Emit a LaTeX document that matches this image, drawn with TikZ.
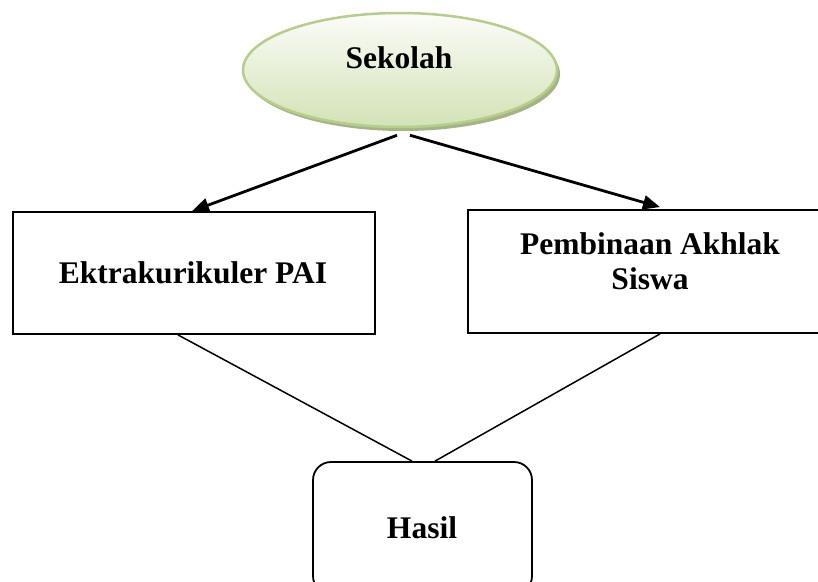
\documentclass[tikz,border=0pt]{standalone}
\usepackage{fontspec}
\setmainfont{Liberation Serif}
\usetikzlibrary{shapes.geometric,shadows,arrows.meta}
\definecolor{ellTop}{HTML}{FBFCF8}
\definecolor{ellBot}{HTML}{D3E2B6}
\definecolor{ellDraw}{HTML}{B6CE8A}
\definecolor{ellShadow}{HTML}{A5B485}
\tikzset{
  lbl/.style={font=\fontsize{31.5}{35}\selectfont\bfseries, align=center, inner sep=0pt},
  boxnode/.style={draw=black, line width=1.8pt, inner sep=0pt},
  arr/.style={line width=2.8pt, -{Triangle[length=17pt,width=14pt]}},
  conn/.style={line width=1.5pt}
}
\begin{document}
\begin{tikzpicture}[x=1pt,y=-1pt]
\useasboundingbox (0,0) rectangle (818,581);
\clip (0,0) rectangle (818,581);
\fill[white] (0,0) rectangle (818,581);
% ellipse
\node[ellipse, minimum width=314pt, minimum height=114pt, draw=ellDraw, line width=2.5pt,
      top color=ellTop, bottom color=ellBot,
      drop shadow={shadow xshift=3pt, shadow yshift=-4pt, fill=ellShadow, opacity=1}] (sek) at (400,70) {};
\node[lbl] (sektxt) at (399,58) {Sekolah};
% boxes
\node[boxnode, minimum width=362pt, minimum height=122pt] (lb) at (194,273) {};
\node[lbl] (lbtxt) at (193,273) {Ektrakurikuler PAI};
\node[boxnode, minimum width=364pt, minimum height=123pt] (rb) at (650,271.5) {};
\node[lbl] (rbtxt) at (650,261) {Pembinaan Akhlak\\Siswa};
\node[boxnode, rounded corners=18pt, minimum width=219pt, minimum height=132pt] (hasil) at (422.5,528) {};
\node[lbl] (hasiltxt) at (422,528) {Hasil};
% arrows
\draw[arr] ([xshift=-3pt,yshift=-7pt]sek.south) -- ([xshift=-2pt,yshift=0pt]lb.north);
\draw[arr] ([xshift=10pt,yshift=-7pt]sek.south) -- ([xshift=10pt,yshift=2pt]rb.north);
% connectors
\draw[conn] ([xshift=-16pt]lb.south) -- ([xshift=-10.5pt]hasil.north);
\draw[conn] ([xshift=10pt]rb.south) -- ([xshift=12.5pt]hasil.north);
\end{tikzpicture}
\end{document}
